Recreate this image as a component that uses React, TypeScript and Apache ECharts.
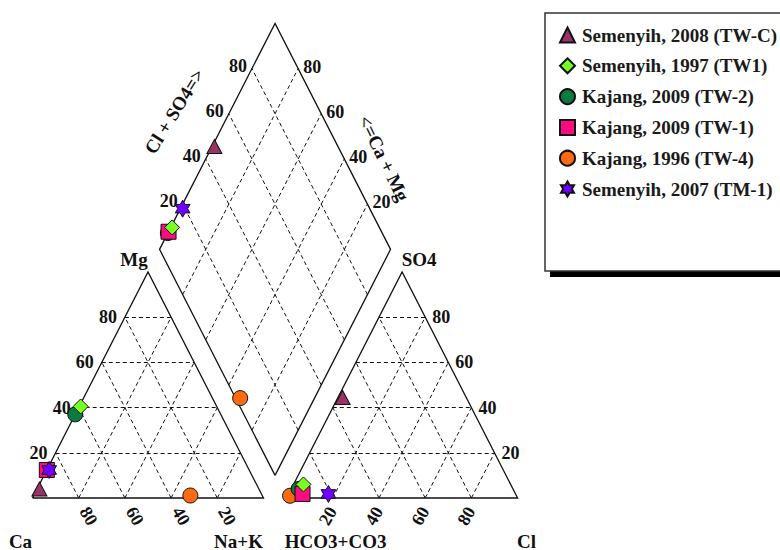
import React, { useEffect, useRef } from "react";
import * as echarts from "echarts";

// ---------- data ----------
const SAMPLES = [
  "Semenyih, 2008 (TW-C)",
  "Semenyih, 1997 (TW1)",
  "Kajang, 2009 (TW-2)",
  "Kajang, 2009 (TW-1)",
  "Kajang, 1996 (TW-4)",
  "Semenyih, 2007 (TM-1)",
];
// cations (% meq)
const MG = [4, 40.5, 37, 12.4, 1.1, 12.4];
const NAK = [1, 0.6, 0, 0, 67.8, 1];
// anions (% meq)
const SO4 = [44.5, 6, 4, 1.8, 1, 1.8];
const CL = [2, 4.3, 3.2, 6, 1, 17.2];
const TICKS = [20, 40, 60, 80];

// ---------- styles ----------
const COLORS = ["#993366", "#77FF22", "#0B7A3E", "#FF0A80", "#FF6A10", "#7000FF"];
const Z = [4, 6, 3, 5, 2, 7];
const starPath = (() => {
  const pts: string[] = [];
  for (let k = 0; k < 12; k++) {
    const a = ((-90 + k * 30) * Math.PI) / 180;
    const r = k % 2 === 0 ? 10 : 10 / Math.sqrt(3);
    pts.push((10 + r * Math.cos(a)).toFixed(3) + " " + (10 + r * Math.sin(a)).toFixed(3));
  }
  return "path://M" + pts.join(" L") + " Z";
})();
const SYMBOLS = ["triangle", "diamond", "circle", "rect", "circle", starPath];
const SIZES = [[15, 14], [15, 15], [15, 15], [15, 15], [15, 15], [17, 17]];

const FONT = "'Liberation Serif', 'Times New Roman', serif";

// ---------- geometry (triangle side = 100 units) ----------
const TH = (Math.sqrt(3) / 2) * 100;
const GAP = 10;
const leftPt = (mg: number, nak: number) => [nak + mg / 2, (mg * TH) / 100];
const rightPt = (so4: number, cl: number) => [100 + GAP + cl + so4 / 2, (so4 * TH) / 100];
const DB = (GAP / 100) * TH; // diamond bottom vertex height
const dPt = (cs: number, cm: number) => [
  100 + GAP / 2 + (cs / 100) * 50 - (cm / 100) * 50,
  DB + ((cs + cm) / 100) * TH,
];

// pixel mapping
const W = 780, HPX = 550;
const X0 = 32.5, SX = 2.31, Y0 = 498, SY = 2.61;

export default function App() {
  const ref = useRef<HTMLDivElement>(null);
  useEffect(() => {
    document.body.style.margin = "0";
    const chart = echarts.init(ref.current!, null, { renderer: "svg" });

    const frames = [
      { coords: [leftPt(0, 0), leftPt(0, 100), leftPt(100, 0), leftPt(0, 0)] },
      { coords: [rightPt(0, 0), rightPt(0, 100), rightPt(100, 0), rightPt(0, 0)] },
      { coords: [dPt(0, 0), dPt(100, 0), dPt(100, 100), dPt(0, 100), dPt(0, 0)] },
    ];
    const grid: any[] = [];
    TICKS.forEach((k) => {
      grid.push({ coords: [leftPt(k, 0), leftPt(k, 100 - k)] });
      grid.push({ coords: [leftPt(0, k), leftPt(100 - k, k)] });
      grid.push({ coords: [leftPt(0, 100 - k), leftPt(100 - k, 0)] });
      grid.push({ coords: [rightPt(k, 0), rightPt(k, 100 - k)] });
      grid.push({ coords: [rightPt(0, k), rightPt(100 - k, k)] });
      grid.push({ coords: [rightPt(0, 100 - k), rightPt(100 - k, 0)] });
      grid.push({ coords: [dPt(k, 0), dPt(k, 100)] });
      grid.push({ coords: [dPt(0, k), dPt(100, k)] });
    });

    // text labels anchored to geometry; offsets given in screen pixels
    const labels: any[] = [];
    const add = (pt: number[], name: string, dx: number, dy: number, rotate = 0, size = 18) => {
      const t = (rotate * Math.PI) / 180;
      const lx = dx * Math.cos(t) - dy * Math.sin(t);
      const ly = dx * Math.sin(t) + dy * Math.cos(t);
      labels.push({ name, value: pt, label: { offset: [lx, ly], rotate, fontSize: size } });
    };
    TICKS.forEach((k) => {
      add(leftPt(k, 0), String(k), -17, 0);
      add(leftPt(0, k), String(100 - k), 10, 18, -60);
      add(rightPt(k, 100 - k), String(k), 16, 0);
      add(rightPt(0, k), String(k), -5, 18, 60);
      add(dPt(k, 100), String(k), -14, -3);
      add(dPt(100, k), String(k), 14, -2);
    });
    add(leftPt(100, 0), "Mg", -14, -12, 0, 19);
    add(leftPt(0, 0), "Ca", -12, 43, 0, 19);
    add(leftPt(0, 100), "Na+K", -25, 43, 0, 19);
    add(rightPt(0, 0), "HCO3+CO3", 49, 43, 0, 19);
    add(rightPt(0, 100), "Cl", 9, 43, 0, 19);
    add(rightPt(100, 0), "SO4", 17, -12, 0, 19);
    add(dPt(50, 100), "Cl + SO4=>", -43, -25, 58, 19);
    add(dPt(100, 50), "<=Ca + Mg", 51, 22, -64, 19);

    const sampleSeries = SAMPLES.map((name, i) => ({
      type: "scatter",
      name,
      symbol: SYMBOLS[i],
      symbolSize: SIZES[i],
      symbolKeepAspect: true,
      z: Z[i],
      itemStyle: { color: COLORS[i], borderColor: "#111", borderWidth: 1, opacity: 1 },
      data: [
        leftPt(MG[i], NAK[i]),
        rightPt(SO4[i], CL[i]),
        dPt(SO4[i] + CL[i], 100 - NAK[i]),
      ],
    }));

    chart.setOption({
      animation: false,
      grid: { left: 0, right: 0, top: 0, bottom: 0 },
      xAxis: { type: "value", min: -X0 / SX, max: (W - X0) / SX, show: false },
      yAxis: { type: "value", min: -(HPX - Y0) / SY, max: Y0 / SY, show: false },
      graphic: [
        { type: "rect", shape: { x: 550, y: 19, width: 260, height: 258 }, style: { fill: "#000" }, z: 0 },
        { type: "rect", shape: { x: 545, y: 13, width: 260, height: 258 }, style: { fill: "#fff", stroke: "#333", lineWidth: 1.5 }, z: 1 },
      ],
      legend: {
        orient: "vertical",
        left: 554,
        top: 20,
        itemWidth: 15,
        itemHeight: 15,
        itemGap: 10.8,
        z: 10,
        data: SAMPLES,
        textStyle: {
          fontFamily: FONT, fontWeight: "bold", fontSize: 19, color: "#1a1a1a",
          lineHeight: 20, padding: [0, 0, 0, 2],
        },
      },
      series: [
        {
          type: "lines",
          coordinateSystem: "cartesian2d",
          silent: true,
          z: 1,
          lineStyle: { color: "#111", width: 1, type: [4, 3], opacity: 1 },
          data: grid,
        },
        {
          type: "lines",
          coordinateSystem: "cartesian2d",
          polyline: true,
          silent: true,
          z: 1,
          lineStyle: { color: "#111", width: 1.3, opacity: 1 },
          data: frames,
        },
        {
          type: "scatter",
          silent: true,
          symbolSize: 0,
          z: 1,
          itemStyle: { opacity: 1 },
          label: {
            show: true,
            position: "inside",
            align: "center",
            verticalAlign: "middle",
            formatter: (p: any) => p.name,
            fontFamily: FONT,
            fontWeight: "bold",
            color: "#111",
            opacity: 1,
            textBorderWidth: 0,
            textBorderColor: "transparent",
          },
          data: labels,
        },
        ...sampleSeries,
      ],
    });
    return () => chart.dispose();
  }, []);
  return <div ref={ref} style={{ width: 780, height: 550 }} />;
}
